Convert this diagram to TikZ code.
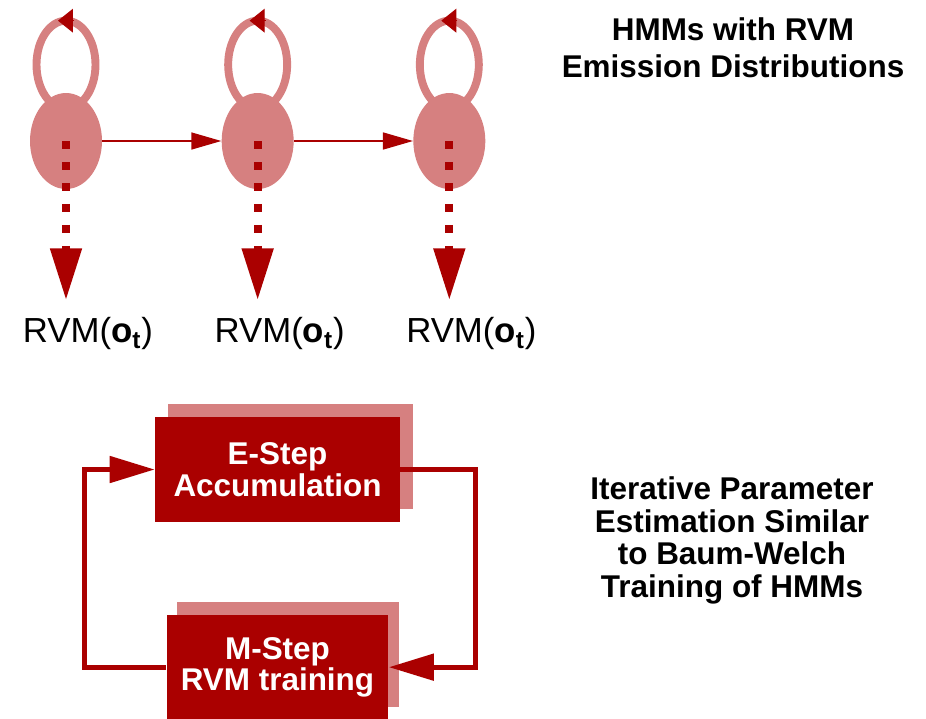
\documentclass[tikz,border=0pt]{standalone}
\usepackage{fontspec}
\setmainfont{Liberation Sans}
\usetikzlibrary{arrows.meta, positioning, shapes.geometric, shadows}
\definecolor{statefill}{HTML}{D68080}
\definecolor{darkred}{HTML}{AA0000}

\begin{document}
\begin{tikzpicture}[x=0.02cm, y=0.02cm, node distance=2.38cm, every node/.style={inner sep=0pt},
    state/.style={ellipse, fill=statefill, minimum width=1.44cm, minimum height=1.92cm},
    obs/.style={font=\fontsize{19.8pt}{22pt}\selectfont, inner ysep=0.34cm},
    note/.style={align=center, font=\bfseries\fontsize{17.9pt}{18.7pt}\selectfont},
    box/.style={rectangle, fill=darkred, text=white, align=center, minimum height=2.1cm,
        font=\bfseries\fontsize{17.9pt}{18pt}\selectfont},
    trans/.style={draw=darkred, line width=0.85pt, -{Triangle[length=0.6cm, width=0.34cm]}},
    emit/.style={draw=darkred, line width=0.16cm, dash pattern=on 0.16cm off 0.26cm,
        -{Triangle[length=1.04cm, width=0.6cm]}},
    selfloop/.style={draw=statefill, line width=4.5pt},
    loophead/.style={draw=darkred, line width=0.5pt, -{Triangle[length=8.5pt, width=13.5pt]}},
    loopback/.style={draw=darkred, line width=0.1cm, -{Triangle[length=0.9cm, width=0.52cm]}}]
    \useasboundingbox (0,0) rectangle (926,-718);

    % HMM states with self loops
    \node[state] (s1) at (66,-141) {};
    \node[state, right=of s1] (s2) {};
    \node[state, right=of s2] (s3) {};
    \foreach \s in {s1,s2,s3} {
        \draw[selfloop] ([yshift=0.56cm]\s.north) ellipse[x radius=29.5, y radius=44];
        \draw[loophead] ([shift={(8,72)}]\s.north) -- ++(-16,0);
    }
    \draw[trans] (s1) -- (s2);
    \draw[trans] (s2) -- (s3);

    % emission distributions
    \foreach \i in {1,2,3} {
        \node[obs, below=2.22cm of s\i, xshift=0.44cm] (r\i) {RVM(\textbf{o}\textsubscript{\textbf{t}})};
        \draw[emit] (s\i.center) -- (s\i.center |- r\i.north);
    }
    \node[note, anchor=north, font=\bfseries\fontsize{17.9pt}{21pt}\selectfont] (title) at (733,-17.4)
        {HMMs with RVM\\Emission Distributions};

    % EM style training loop
    \node[box, minimum width=4.9cm,
        general shadow={fill=statefill, shadow xshift=0.26cm, shadow yshift=0.26cm}] (estep) at (277.5,-469.5) {E-Step\\Accumulation};
    \node[box, minimum width=4.44cm, below=1.84cm of estep,
        general shadow={fill=statefill, shadow xshift=0.21cm, shadow yshift=0.25cm}] (mstep) {M-Step\\RVM training};
    \draw[loopback] (estep.east) -- ++(75,0) |- (mstep.east);
    \draw[loopback] (mstep.west) -- ++(-82,0) |- (estep.west);
    \node[note, anchor=north] (algo) at (732,-476) {Iterative Parameter\\Estimation Similar\\to Baum-Welch\\Training of HMMs};
\end{tikzpicture}
\end{document}
